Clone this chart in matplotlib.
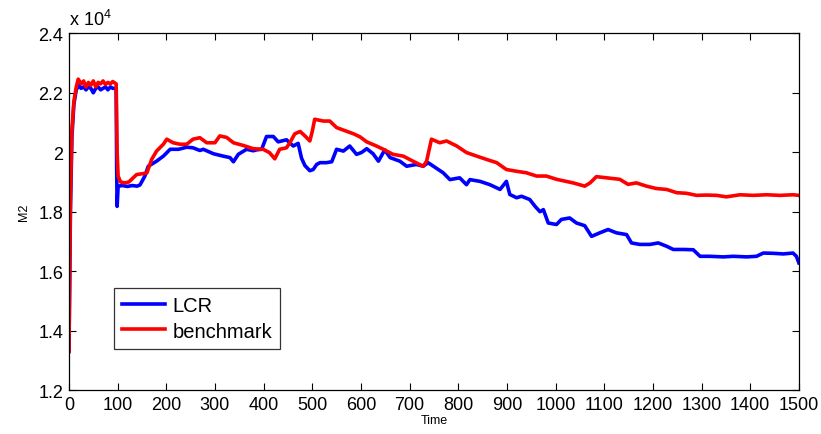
import numpy as np
from matplotlib import pyplot as plt
from matplotlib.ticker import FuncFormatter

plt.rcParams['font.family'] = ['Liberation Sans', 'DejaVu Sans']
plt.rcParams['mathtext.fontset'] = 'custom'
plt.rcParams['mathtext.rm'] = 'Liberation Sans'

# LCR 曲线
t_lcr = [0, 3, 6, 10, 15, 20, 25, 30, 35, 40, 45, 50, 55, 60, 65, 70, 75, 80, 85, 90,
         97, 98, 99, 101, 110, 120, 130, 140, 146, 156, 163, 170, 180, 194, 208, 225,
         242, 255, 269, 276, 297, 317, 331, 338, 348, 365, 379, 385, 396, 406, 420, 430,
         447, 461, 471, 478, 485, 495, 502, 509, 516, 529, 540, 550, 564, 577, 591, 601,
         612, 625, 636, 649, 660, 680, 694, 714, 728, 738, 749, 769, 783, 803, 817, 824,
         845, 865, 886, 899, 906, 920, 930, 947, 958, 968, 975, 985, 1002, 1012, 1029,
         1043, 1060, 1074, 1091, 1108, 1125, 1146, 1156, 1173, 1194, 1211, 1228, 1242,
         1263, 1283, 1297, 1317, 1345, 1365, 1393, 1413, 1427, 1448, 1468, 1488, 1495, 1500]
m2_lcr = [1.33, 1.80, 2.05, 2.16, 2.21, 2.225, 2.215, 2.22, 2.21, 2.22, 2.215, 2.20, 2.215,
          2.22, 2.21, 2.215, 2.22, 2.21, 2.22, 2.215, 2.215, 1.95, 1.818, 1.886, 1.888,
          1.885, 1.888, 1.886, 1.89, 1.92, 1.953, 1.96, 1.97, 1.987, 2.01, 2.01, 2.017,
          2.015, 2.006, 2.01, 1.995, 1.987, 1.982, 1.968, 1.993, 2.01, 2.005, 2.008, 2.01,
          2.053, 2.053, 2.035, 2.042, 2.021, 2.03, 1.98, 1.955, 1.938, 1.942, 1.959, 1.965,
          1.965, 1.968, 2.01, 2.004, 2.021, 1.993, 1.999, 2.012, 1.995, 1.97, 2.008, 1.982,
          1.97, 1.953, 1.959, 1.953, 1.965, 1.953, 1.931, 1.908, 1.914, 1.891, 1.908, 1.902,
          1.891, 1.875, 1.902, 1.858, 1.847, 1.852, 1.841, 1.818, 1.80, 1.807, 1.762, 1.757,
          1.774, 1.779, 1.762, 1.753, 1.717, 1.729, 1.74, 1.729, 1.723, 1.695, 1.69, 1.69,
          1.695, 1.684, 1.673, 1.673, 1.672, 1.65, 1.65, 1.648, 1.65, 1.648, 1.65, 1.661,
          1.66, 1.658, 1.661, 1.65, 1.628]

# benchmark 曲线
t_bm = [0, 3, 6, 10, 15, 19, 25, 30, 35, 40, 45, 50, 55, 60, 65, 70, 75, 80, 85, 90, 97,
        99, 101, 106, 115, 123, 139, 160, 170, 180, 194, 201, 214, 228, 242, 255, 269, 283,
        300, 310, 324, 338, 358, 379, 399, 412, 423, 433, 447, 454, 464, 475, 485, 495, 500,
        505, 523, 536, 550, 570, 585, 598, 612, 632, 646, 666, 687, 707, 728, 735, 745, 762,
        776, 797, 817, 838, 858, 879, 899, 920, 940, 961, 981, 1002, 1036, 1060, 1071, 1084,
        1105, 1132, 1149, 1166, 1187, 1207, 1228, 1249, 1269, 1290, 1310, 1331, 1351, 1379,
        1406, 1434, 1461, 1488, 1500]
m2_bm = [1.33, 1.85, 2.07, 2.17, 2.22, 2.246, 2.23, 2.24, 2.22, 2.235, 2.225, 2.24, 2.22,
         2.235, 2.23, 2.24, 2.228, 2.235, 2.23, 2.238, 2.23, 2.0, 1.92, 1.90, 1.897, 1.90,
         1.925, 1.93, 1.976, 2.004, 2.027, 2.044, 2.032, 2.027, 2.027, 2.044, 2.049, 2.032,
         2.032, 2.055, 2.05, 2.032, 2.023, 2.012, 2.01, 1.999, 1.978, 2.01, 2.015, 2.032,
         2.062, 2.07, 2.055, 2.038, 2.07, 2.111, 2.105, 2.105, 2.083, 2.071, 2.062, 2.052,
         2.035, 2.021, 2.01, 1.993, 1.987, 1.97, 1.953, 1.97, 2.044, 2.032, 2.038, 2.021,
         1.999, 1.987, 1.976, 1.965, 1.942, 1.936, 1.931, 1.92, 1.92, 1.909, 1.897, 1.886,
         1.897, 1.918, 1.914, 1.909, 1.892, 1.897, 1.886, 1.878, 1.875, 1.864, 1.862, 1.855,
         1.856, 1.855, 1.85, 1.857, 1.855, 1.857, 1.855, 1.857, 1.855]

fig = plt.figure(figsize=(8.21, 4.35), dpi=100)
ax = fig.add_axes([0.084, 0.101, 0.889, 0.82])

ax.plot(t_lcr, np.array(m2_lcr) * 1e4, color=(0, 0, 1), lw=2.6, label='LCR')
ax.plot(t_bm, np.array(m2_bm) * 1e4, color=(1, 0, 0), lw=2.6, label='benchmark')

ax.set_xlim(0, 1500)
ax.set_ylim(12000, 24000)
ax.set_xticks(np.arange(0, 1501, 100))
ax.set_yticks(np.arange(12000, 24001, 2000))
ax.yaxis.set_major_formatter(FuncFormatter(lambda v, p: '{:g}'.format(v / 1e4)))
ax.tick_params(direction='in', top=True, right=True, length=5, width=0.8,
               labelsize=13, pad=4)
for s in ax.spines.values():
    s.set_linewidth(0.9)

ax.set_xlabel('Time', fontsize=9, labelpad=1)
ax.set_ylabel('M2', fontsize=9, labelpad=6)
ax.text(0.0, 1.012, 'x 10$^{4}$', transform=ax.transAxes, fontsize=13,
        ha='left', va='bottom')

leg = ax.legend(loc='upper left', bbox_to_anchor=(0.062, 0.285), borderaxespad=0,
                fancybox=False, edgecolor='black', fontsize=14.5, handlelength=2.1,
                labelspacing=0.3, borderpad=0.4, handletextpad=0.4)
leg.get_frame().set_linewidth(0.9)

fig.savefig('out.png', dpi=100)
